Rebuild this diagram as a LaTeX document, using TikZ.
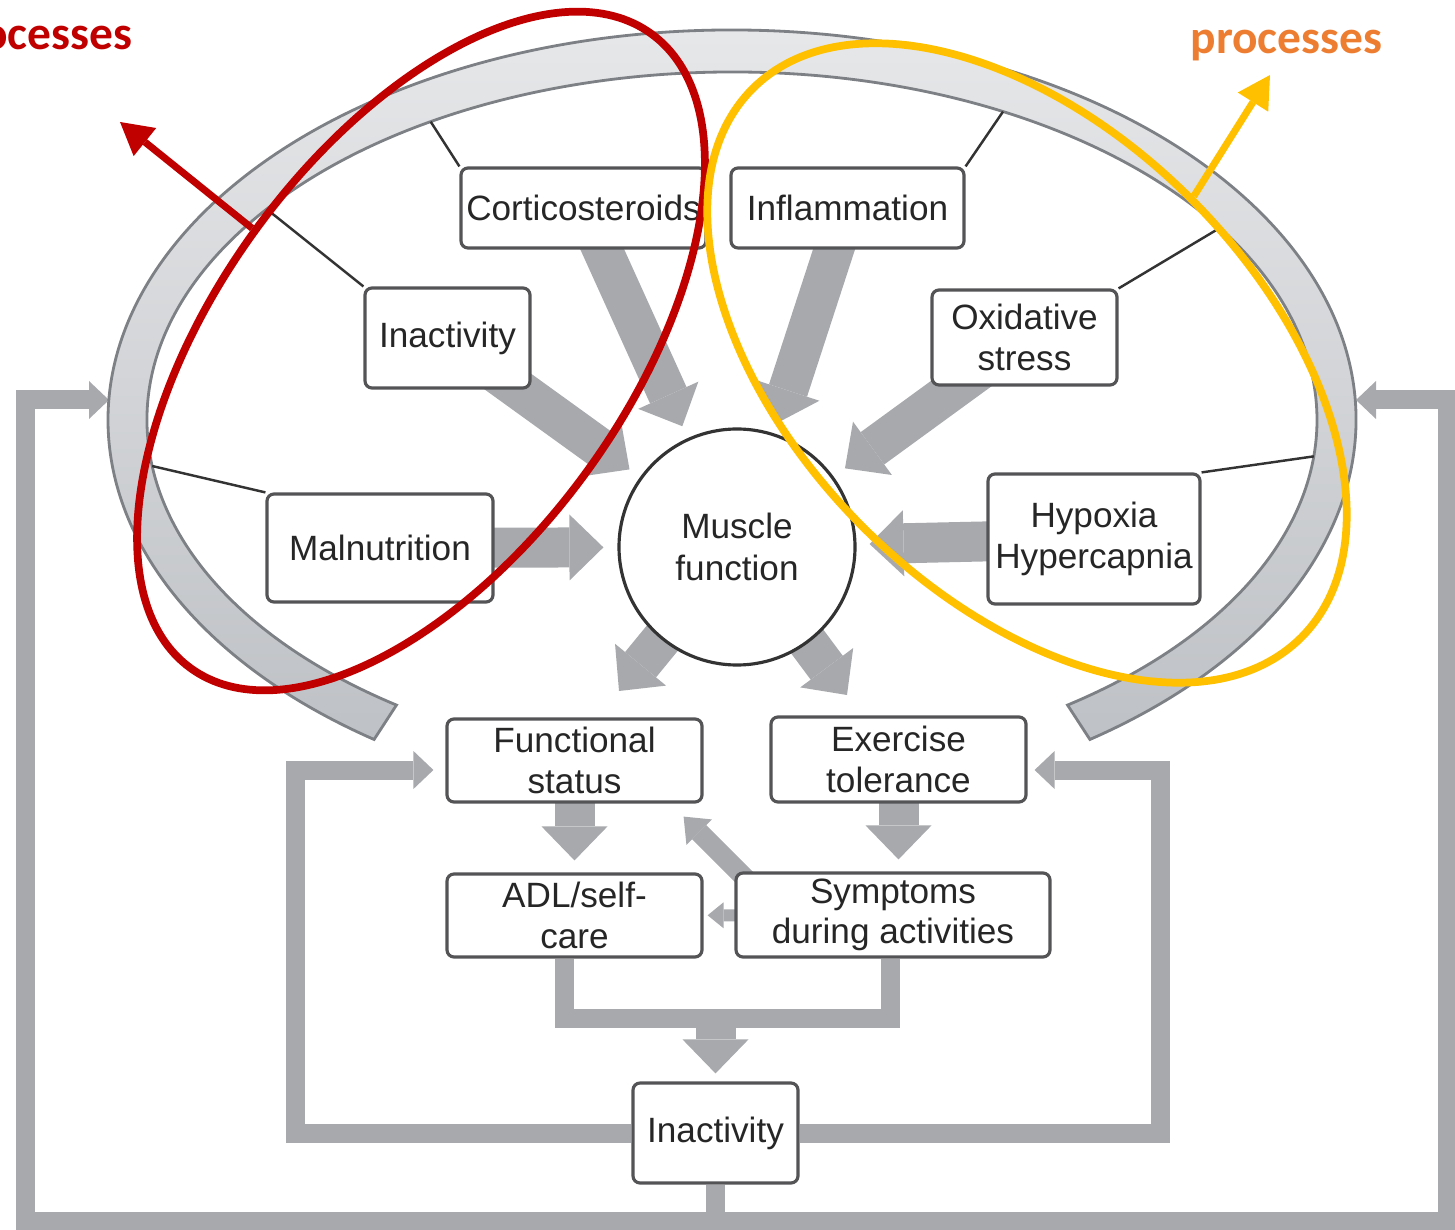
\documentclass[tikz,border=0pt]{standalone}
\usepackage{fontspec}
\setmainfont{Liberation Sans}
\newfontfamily\calfont{Carlito}
\usepackage{tkz-euclide}
\usetikzlibrary{arrows.meta,calc,shapes.geometric}
\definecolor{ArrowClr}{rgb}{0.655,0.663,0.675}
\definecolor{RingClr}{rgb}{0.49,0.50,0.52}
\definecolor{RingTop}{rgb}{0.915,0.918,0.925}
\definecolor{RingBot}{rgb}{0.745,0.757,0.773}
\definecolor{BoxClr}{rgb}{0.33,0.33,0.34}
\definecolor{RedClr}{rgb}{0.753,0,0}
\definecolor{GoldClr}{rgb}{1,0.753,0}
\definecolor{OrangeClr}{rgb}{0.929,0.490,0.192}
\pgfdeclarelayer{back}
\pgfsetlayers{back,main}

\begin{document}
\begin{tikzpicture}[
  factor/.style={draw=BoxClr,line width=0.9pt,rounded corners=2pt,fill=white,
    align=center,inner sep=1pt,text=black!85,font=\fontsize{10}{11.5}\selectfont},
  hub/.style={circle,draw=black!80,line width=0.9pt,fill=white,align=center,
    minimum size=2.36cm,inner sep=0pt,text=black!85,font=\fontsize{10}{11.8}\selectfont},
  fatarrow/.style={draw=ArrowClr,line width=0.40cm,
    -{Triangle[width=0.66cm,length=0.34cm,line width=0pt]}},
  midarrow/.style={draw=ArrowClr,line width=0.20cm,
    -{Triangle[width=0.36cm,length=0.22cm,line width=0pt]}},
  smallarrow/.style={draw=ArrowClr,line width=0.12cm,
    -{Triangle[width=0.26cm,length=0.16cm,line width=0pt]}},
  loopline/.style={draw=ArrowClr,line width=0.19cm},
  looparrow/.style={loopline,-{Triangle[width=0.38cm,length=0.20cm,line width=0pt]}},
  tether/.style={draw=black!80,line width=0.7pt},
  ringline/.style={ellipse,draw=#1,line width=2.2pt,inner sep=0pt},
  callout/.style={draw=#1,line width=2pt,
    -{Triangle[width=0.36cm,length=0.32cm,line width=0pt]}},
  proc/.style={text=#1,inner sep=0pt,font=\calfont\bfseries\fontsize{13.5}{16}\selectfont}]

\useasboundingbox (0,0) rectangle (14.55,12.29);

\tkzDefPoints{7.32/8.09/O,5.835/10.21/pCort,8.475/10.21/pInfl,4.475/8.91/pInactT}
\tkzDefPoints{10.245/8.915/pOxid,3.80/6.81/pMaln,10.94/6.90/pHypox,7.37/6.82/pMusc}
\tkzDefPoints{5.745/4.685/pFunc,8.985/4.695/pExer,5.745/3.135/pADL,8.93/3.14/pSymp,7.155/0.96/pInactB}
\tkzDefPoints{2.95/4.59/lp,11.60/4.59/rp,0.25/0.08/bl,14.47/0.08/br,1.09/8.29/aL,13.56/8.29/aR}
\tkzDefPoints{7.155/2.11/jn,6.19/5.38/tF,8.47/5.34/tE,1.20/11.07/redTip,12.70/11.54/goldTip}

\path (O) ++(121:5.85 and 3.48) coordinate (tCort);
\path (O) ++(62.4:5.85 and 3.48) coordinate (tInfl);
\path (O) ++(142.7:5.85 and 3.48) coordinate (tInactT);
\path (O) ++(33.5:5.85 and 3.48) coordinate (tOxid);
\path (O) ++(187.6:5.85 and 3.48) coordinate (tMaln);
\path (O) ++(-6:5.85 and 3.48) coordinate (tHypox);

\node[factor,minimum width=2.45cm,minimum height=0.80cm] (cort) at (pCort) {Corticosteroids};
\node[factor,minimum width=2.33cm,minimum height=0.80cm] (infl) at (pInfl) {Inflammation};
\node[factor,minimum width=1.65cm,minimum height=1.00cm] (inactT) at (pInactT) {Inactivity};
\node[factor,minimum width=1.85cm,minimum height=0.95cm] (oxid) at (pOxid) {Oxidative\\stress};
\node[factor,minimum width=2.26cm,minimum height=1.08cm] (maln) at (pMaln) {Malnutrition};
\node[factor,minimum width=2.12cm,minimum height=1.30cm] (hypox) at (pHypox) {Hypoxia\\Hypercapnia};
\node[hub] (muscle) at (pMusc) {Muscle\\function};
\node[factor,minimum width=2.55cm,minimum height=0.83cm] (func) at (pFunc) {Functional\\status};
\node[factor,minimum width=2.55cm,minimum height=0.85cm] (exer) at (pExer) {Exercise\\tolerance};
\node[factor,minimum width=2.55cm,minimum height=0.83cm] (adl) at (pADL) {ADL/self-\\care};
\node[factor,minimum width=3.14cm,minimum height=0.84cm] (symp) at (pSymp) {Symptoms\\during activities};
\node[factor,minimum width=1.65cm,minimum height=1.00cm] (inactB) at (pInactB) {Inactivity};

\begin{pgfonlayer}{back}
\draw[looparrow] (inactB.south) |- (bl) |- (aL);
\draw[looparrow] (inactB.south) |- (br) |- (aR);
\draw[looparrow,shorten >=0.12cm] (inactB.west) -| (lp) -- (lp -| func.west);
\draw[looparrow,shorten >=0.07cm] (inactB.east) -| (rp) -- (rp -| exer.east);
\draw[loopline] ([xshift=-0.1cm]adl.south) |- (jn) -| ([xshift=-0.03cm]symp.south);
\draw[fatarrow,shorten >=0.08cm] (jn) -- (inactB.north);

\draw[fatarrow,shorten >=1.3mm] (cort.center) -- (muscle);
\draw[fatarrow,shorten >=1.1mm] (infl.center) -- (muscle);
\draw[fatarrow,shorten >=1.3mm] (inactT.center) -- (muscle);
\draw[fatarrow,shorten >=1.4mm] (oxid.center) -- (muscle);
\draw[fatarrow,shorten >=1.4mm] (maln.center) -- (muscle);
\draw[fatarrow,shorten >=1.3mm] (hypox.center) -- (muscle);
\draw[fatarrow] (muscle.center) -- (tF);
\draw[fatarrow] (muscle.center) -- (tE);
\draw[fatarrow,shorten >=1.2mm] (func.center) -- (adl);
\draw[fatarrow,shorten >=1.2mm] (exer.center) -- (exer.south |- symp.north);
\draw[midarrow] ([xshift=0.14cm,yshift=-0.1cm]symp.north west) -- ([xshift=-0.2cm,yshift=-0.13cm]func.south east);
\draw[smallarrow,shorten >=0.04cm] (symp.center) -- (adl);

\draw[draw=RingClr,line width=0.8pt,top color=RingTop,bottom color=RingBot]
  ($(O)+(-55:6.24 and 3.90)$) arc[start angle=-55,end angle=235,x radius=6.24,y radius=3.90]
  -- ($(O)+(235:5.85 and 3.48)$) arc[start angle=235,end angle=-55,x radius=5.85,y radius=3.48]
  -- cycle;

\draw[tether] (cort.north west) -- (tCort);
\draw[tether] (infl.north east) -- (tInfl);
\draw[tether] (inactT.north west) -- (tInactT);
\draw[tether] (oxid.north east) -- (tOxid);
\draw[tether] (maln.north west) -- (tMaln);
\draw[tether] (hypox.north east) -- (tHypox);
\end{pgfonlayer}

\node[ringline=RedClr,rotate=54,minimum width=7.84cm,minimum height=4.10cm] (redRing) at (4.21,8.78) {};
\node[ringline=GoldClr,rotate=-45,minimum width=7.76cm,minimum height=4.64cm] (goldRing) at (10.27,8.66) {};
\draw[callout=RedClr] (redRing.north) -- (redTip);
\draw[callout=GoldClr] (goldRing.north) -- (goldTip);

\node[proc=RedClr,anchor=base east] (procL) at (1.33,11.79) {processes};
\node[proc=OrangeClr,anchor=base west] (procR) at (11.90,11.75) {processes};

\end{tikzpicture}
\end{document}
